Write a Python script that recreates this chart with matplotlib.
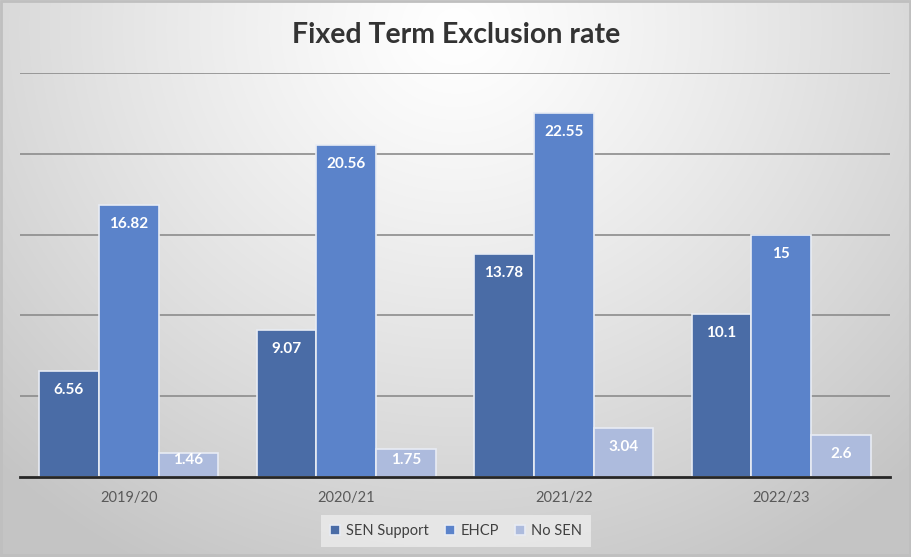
import numpy as np
import matplotlib
matplotlib.use("Agg")
import matplotlib.pyplot as plt
from matplotlib.patches import Rectangle

plt.rcParams['font.family'] = ['Lato', 'DejaVu Sans']

categories = ["2019/20", "2020/21", "2021/22", "2022/23"]
sen_support = [6.56, 9.07, 13.78, 10.1]
ehcp = [16.82, 20.56, 22.55, 15]
no_sen = [1.46, 1.75, 3.04, 2.6]
series_names = ["SEN Support", "EHCP", "No SEN"]
colors = ["#4A6CA6", "#5B83CA", "#ADBBDD"]
label_texts = [["6.56", "9.07", "13.78", "10.1"],
               ["16.82", "20.56", "22.55", "15"],
               ["1.46", "1.75", "3.04", "2.6"]]

W, H = 912, 557
fig = plt.figure(figsize=(W/100, H/100), dpi=100)

# gradient background
bg = fig.add_axes([0, 0, 1, 1], zorder=-10)
yy, xx = np.mgrid[0:H, 0:W]
cx, cy = W/2, H*0.05
d = np.sqrt(((xx-cx)/(W*0.72))**2 + ((yy-cy)/(H*1.1))**2)
val = 1.0 - 0.23*np.clip(d, 0, 1)**1.2
img = np.dstack([val, val, val])
bg.imshow(img, aspect='auto', extent=[0, W, H, 0])
bg.add_patch(Rectangle((1, 1), W-3, H-3, fill=False, edgecolor="#bfbfbf", lw=2))
bg.set_xlim(0, W); bg.set_ylim(H, 0)
bg.axis('off')

ax_bottom_px, ax_top_px = 477, 73
ax = fig.add_axes([20/W, 1-ax_bottom_px/H, 870/W, (ax_bottom_px-ax_top_px)/H])
ax.patch.set_alpha(0)
ymax = 25
px_per_unit = (ax_bottom_px-ax_top_px)/ymax
x = np.arange(len(categories))
bw = 0.275
data = [sen_support, ehcp, no_sen]
for i, (vals, c, name) in enumerate(zip(data, colors, series_names)):
    pos = x + (i-1)*bw
    bars = ax.bar(pos, vals, width=bw, color=c, edgecolor="#e8ecf4", linewidth=1.2,
                  label=name, zorder=3)
    for b, t in zip(bars, label_texts[i]):
        h = b.get_height()
        off = min(19, h*px_per_unit - 17)
        ax.annotate(t, (b.get_x()+b.get_width()/2, h),
                    xytext=(0, -off), textcoords='offset pixels',
                    ha='center', va='center', color='white', fontsize=11,
                    fontweight='bold', zorder=5)

ax.set_xlim(-0.5, len(categories)-0.5)
ax.set_ylim(0, ymax)
ax.set_yticks([5, 10, 15, 20, 25])
ax.yaxis.grid(True, color="#8c8c8c", lw=1.2, zorder=0)
ax.set_yticklabels([])
ax.tick_params(axis='y', length=0)
ax.set_xticks(x)
ax.set_xticklabels(categories, color="#595959", fontsize=10.5)
ax.tick_params(axis='x', length=0, pad=10)
for s in ['top', 'right', 'left']:
    ax.spines[s].set_visible(False)
ax.spines['bottom'].set_color("#262626")
ax.spines['bottom'].set_linewidth(2)
ax.spines['bottom'].set_zorder(4)

fig.text(0.5, 1-35/H, "Fixed Term Exclusion rate", ha='center', va='center',
         fontsize=20.5, fontweight='bold', color="#333333")

leg = fig.legend(loc='center', bbox_to_anchor=(0.5, 1-531/H), ncol=3, frameon=True,
                 fontsize=10.5, handlelength=0.7, handleheight=0.7, handletextpad=0.4,
                 columnspacing=1.1, borderpad=0.6, fancybox=False)
leg.get_frame().set_facecolor("#ececec")
leg.get_frame().set_edgecolor("none")
leg.get_frame().set_alpha(0.8)
for t in leg.get_texts():
    t.set_color("#404040")

fig.savefig("out.png", dpi=100)
